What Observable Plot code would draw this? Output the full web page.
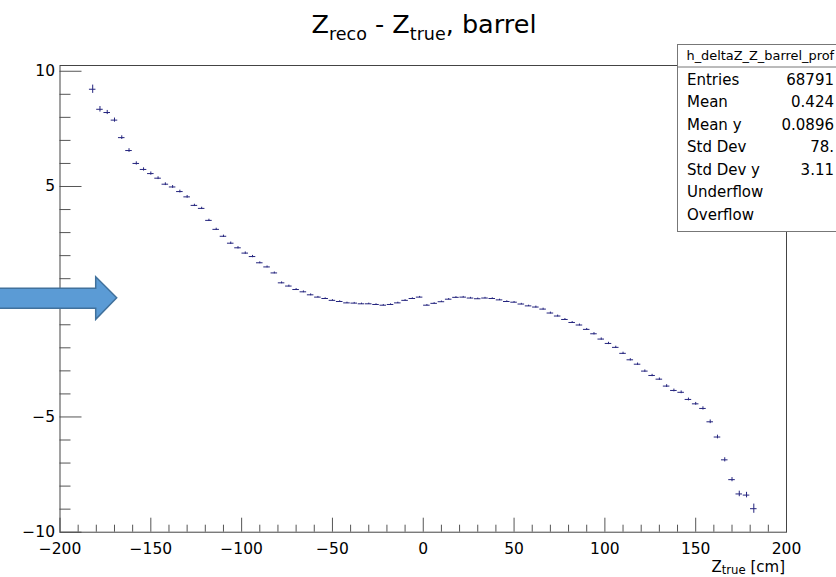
<!DOCTYPE html>
<html><head><meta charset="utf-8">
<script src="https://cdn.jsdelivr.net/npm/d3@7"></script>
<script src="https://cdn.jsdelivr.net/npm/@observablehq/plot@0.6"></script>
<style>
html,body{margin:0;padding:0;background:#fff;overflow:hidden;}
#wrap{position:relative;width:836px;height:577px;overflow:hidden;}
#overlay{position:absolute;left:0;top:0;pointer-events:none;font-family:"DejaVu Sans",sans-serif;}
</style></head><body>
<div id="wrap"><div id="chart"></div><svg id="overlay" width="836" height="577"></svg></div>
<script>
// ---- data ----
const zTrue = [-182,-178,-174,-170,-166,-162,-158,-154,-150,-146,-142,-138,-134,-130,-126,-122,-118,-114,-110,-106,-102,-98,-94,
  -90,-86,-82,-78,-74,-70,-66,-62,-58,-54,-50,-46,-42,-38,-34,-30,-26,-22,-18,-14,-10,-6,-2,
  2,6,10,14,18,22,26,30,34,38,42,46,50,54,58,62,66,
  70,74,78,82,86,90,94,98,102,106,110,114,118,122,126,130,134,138,142,146,150,154,158,162,166,170,174,178,182];
const deltaZ = [9.22,8.35,8.21,7.88,7.12,6.56,6.00,5.74,5.56,5.36,5.10,4.98,4.78,4.55,4.18,4.05,3.53,3.14,2.84,2.54,2.34,2.11,1.96,
  1.69,1.51,1.25,0.82,0.68,0.53,0.43,0.30,0.20,0.14,0.06,0.01,-0.05,-0.06,-0.09,-0.09,-0.12,-0.15,-0.12,-0.05,0.06,0.14,0.20,
  -0.15,-0.07,0.00,0.11,0.19,0.20,0.16,0.13,0.16,0.14,0.08,0.01,-0.02,-0.10,-0.18,-0.23,-0.32,
  -0.49,-0.62,-0.77,-0.90,-1.01,-1.20,-1.39,-1.62,-1.81,-1.98,-2.24,-2.52,-2.71,-3.01,-3.20,-3.36,-3.66,-3.85,-3.93,-4.24,-4.43,-4.63,-5.21,-5.87,-6.86,-7.72,-8.34,-8.39,-8.98];
const deltaZErr = [0.18,0.12,0.09,0.09,0.08,0.08,0.07,0.07,0.07,0.06,0.06,0.06,0.06,0.06,0.05,0.05,0.05,0.05,0.05,0.05,0.05,0.05,0.05,
  0.04,0.04,0.04,0.04,0.04,0.04,0.04,0.04,
  0.03,0.03,0.03,0.03,0.03,0.03,0.03,0.03,0.03,0.03,0.03,0.03,0.03,0.03,0.03,
  0.03,0.03,0.03,0.03,0.03,0.03,0.03,0.03,0.03,0.03,0.03,0.03,0.03,0.03,0.03,
  0.04,0.04,0.04,0.04,0.04,0.04,0.04,0.04,
  0.05,0.05,0.05,0.05,0.05,0.05,0.05,0.05,0.05,0.05,
  0.06,0.06,0.06,0.06,0.06,
  0.07,0.08,0.08,0.09,0.09,0.12,0.12,0.20];
const binHalfWidth = 1.8;
const xTickMajor = [-200,-150,-100,-50,0,50,100,150,200];
const xTickMinor = [-190,-180,-170,-160,-140,-130,-120,-110,-90,-80,-70,-60,-40,-30,-20,-10,10,20,30,40,60,70,80,90,110,120,130,140,160,170,180,190];
const yTickMajor = [-10,-5,0,5,10];
const yTickMinor = [-9,-8,-7,-6,-4,-3,-2,-1,1,2,3,4,6,7,8,9];
const histName = "h_deltaZ_Z_barrel_prof";
const statsLabels = ["Entries","Mean","Mean y","Std Dev","Std Dev y","Underflow","Overflow"];
const statsValues = ["68791","0.424","0.0896","78.","3.11","",""];

// ---- layout ----
const W = 836, H = 577, mL = 59.5, mR = 50, mT = 65, mB = 45.3;
const innerW = W - mL - mR, innerH = H - mT - mB;
const navy = "#24247e", tickCol = "#555";
const fmt = d => d < 0 ? "\u2212" + Math.abs(d) : String(d);

const points = zTrue.map((z, i) => ({z, v: deltaZ[i], e: deltaZErr[i]}));

const chart = Plot.plot({
  width: W, height: H,
  marginLeft: mL, marginRight: mR, marginTop: mT, marginBottom: mB,
  style: {fontFamily: "DejaVu Sans, sans-serif", fontSize: "15.5px", color: "#000", background: "#fff"},
  x: {domain: [-200, 200]},
  y: {domain: [-10, 10.25]},
  marks: [
    Plot.tickY(yTickMajor, {y: d => d, insetRight: innerW - 22, stroke: tickCol}),
    Plot.tickY(yTickMinor, {y: d => d, insetRight: innerW - 11, stroke: tickCol}),
    Plot.tickX(xTickMajor, {x: d => d, insetTop: innerH - 14, stroke: tickCol}),
    Plot.tickX(xTickMinor, {x: d => d, insetTop: innerH - 7, stroke: tickCol}),
    Plot.axisY({ticks: yTickMajor, tickSize: 0, tickPadding: 5, tickFormat: fmt, label: null, fill: "#000"}),
    Plot.axisX({ticks: xTickMajor, tickSize: 0, tickPadding: 10.5, tickFormat: fmt, label: null, fill: "#000"}),
    Plot.frame({stroke: "#444"}),
    Plot.ruleY(points, {y: "v", x1: d => d.z - binHalfWidth, x2: d => d.z + binHalfWidth, stroke: navy, strokeWidth: 1}),
    Plot.ruleX(points, {x: "z", y1: d => d.v - d.e, y2: d => d.v + d.e, stroke: navy, strokeWidth: 1})
  ]
});
document.getElementById("chart").appendChild(chart);

// ---- overlay: title, axis title, stats box, arrow ----
const ov = d3.select("#overlay");
const title = ov.append("text").attr("x", 311.5).attr("y", 33.3).attr("font-size", 25.5).style("white-space", "pre").attr("fill", "#000");
title.append("tspan").text("Z");
title.append("tspan").attr("font-size", 17.5).attr("dy", 6.7).text("reco");
title.append("tspan").attr("dy", -6.7).text(" - Z");
title.append("tspan").attr("font-size", 17.5).attr("dy", 6.7).text("true");
title.append("tspan").attr("dy", -6.7).text(", barrel");

const xt = ov.append("text").attr("x", 785).attr("y", 571.7).attr("text-anchor", "end").attr("font-size", 15).style("white-space", "pre");
xt.append("tspan").text("Z");
xt.append("tspan").attr("font-size", 11.7).attr("dy", 2.5).text("true");
xt.append("tspan").attr("dy", -2.5).text(" [cm]");

// stats box
ov.append("rect").attr("x", 677.5).attr("y", 44.5).attr("width", 200).attr("height", 187).attr("fill", "#fff").attr("stroke", "#777");
ov.append("line").attr("x1", 677.5).attr("x2", 877).attr("y1", 67).attr("y2", 67).attr("stroke", "#777");
ov.append("text").attr("x", 686.5).attr("y", 59.5).attr("font-size", 12.9).text(histName);
statsLabels.forEach((lab, i) => {
  ov.append("text").attr("x", 687).attr("y", 84.7 + 22.5 * i).attr("font-size", 15).text(lab);
  ov.append("text").attr("x", 834).attr("y", 84.7 + 22.5 * i).attr("font-size", 15).attr("text-anchor", "end").text(statsValues[i]);
});

// decorative arrow
ov.append("polygon")
  .attr("points", "-3,288.3 95.7,288.3 95.7,276.7 116.7,297.8 95.7,319.3 95.7,308.3 -3,308.3")
  .attr("fill", "#5b9bd5").attr("stroke", "#41719c").attr("stroke-width", 1.5);
</script>
</body></html>
